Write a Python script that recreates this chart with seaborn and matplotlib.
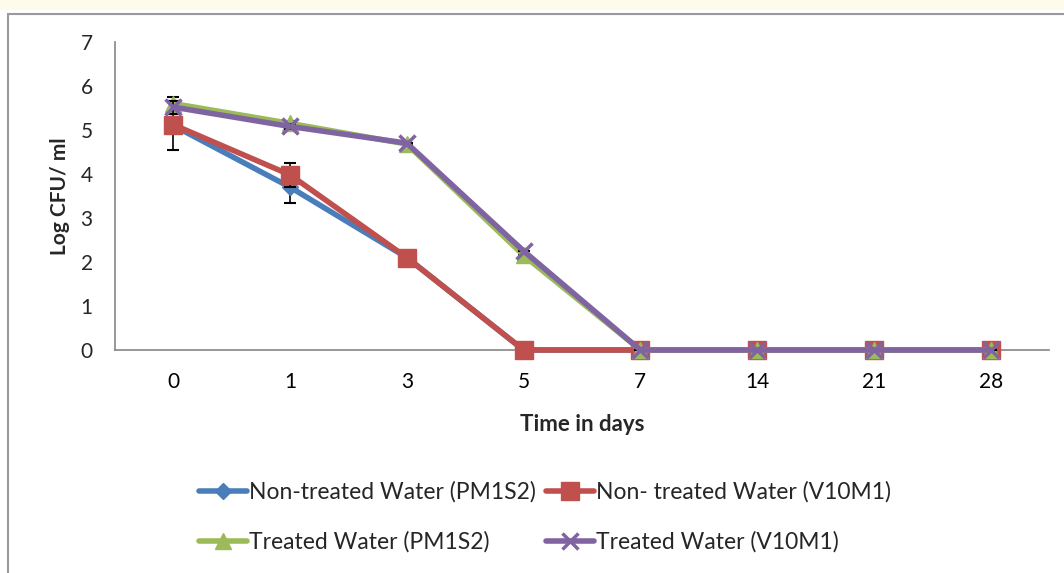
import numpy as np
import pandas as pd
import matplotlib
matplotlib.use("Agg")
import matplotlib.pyplot as plt
import seaborn as sns
from matplotlib.patches import Rectangle

days = ["0", "1", "3", "5", "7", "14", "21", "28"]
series_names = ["Non-treated Water (PM1S2)", "Non- treated Water (V10M1)",
                "Treated Water (PM1S2)", "Treated Water (V10M1)"]
nt_pm1s2 = [5.10, 3.70, 2.10, 0.0, 0.0, 0.0, 0.0, 0.0]
nt_v10m1 = [5.12, 3.98, 2.10, 0.0, 0.0, 0.0, 0.0, 0.0]
t_pm1s2 = [5.60, 5.15, 4.68, 2.15, 0.0, 0.0, 0.0, 0.0]
t_v10m1 = [5.52, 5.08, 4.70, 2.25, 0.0, 0.0, 0.0, 0.0]
err_nt_pm1s2 = [0.55, 0.36, 0, 0, 0, 0, 0, 0]
err_nt_v10m1 = [0.10, 0.27, 0, 0, 0, 0, 0, 0]
err_t_pm1s2 = [0.15, 0.05, 0, 0, 0, 0, 0, 0]
err_t_v10m1 = [0.15, 0.05, 0, 0, 0, 0, 0, 0]

colors = ["#4A7EBB", "#C0504D", "#9BBB59", "#8064A2"]
markers = ["D", "s", "^", "x"]
msizes = [8, 13, 12, 11]

sns.set_theme(style="white")
plt.rcParams['font.family'] = ['Lato', 'DejaVu Sans']

values = [nt_pm1s2, nt_v10m1, t_pm1s2, t_v10m1]
errs = [err_nt_pm1s2, err_nt_v10m1, err_t_pm1s2, err_t_v10m1]
rows = []
for name, vals in zip(series_names, values):
    for i, (d, v) in enumerate(zip(days, vals)):
        rows.append({"pos": i, "day": d, "series": name, "value": v})
df = pd.DataFrame(rows)

fig = plt.figure(figsize=(10.64, 5.73), dpi=100)
fig.patches.append(Rectangle((0, 1 - 10 / 573), 1, 10 / 573, transform=fig.transFigure,
                             facecolor="#FFFBEA", edgecolor="none", zorder=0))
fig.patches.append(Rectangle((8 / 1064, -0.1), 1.2, 1 - 14 / 573 + 0.1, transform=fig.transFigure,
                             facecolor="none", edgecolor="#9A9A9A", linewidth=1.5, zorder=1))

ax = fig.add_axes([115 / 1064, 1 - 350 / 573, (1049 - 115) / 1064, (350 - 42) / 573])

for k, name in enumerate(series_names):
    sub = df[df.series == name]
    ax.errorbar(sub["pos"], sub["value"], yerr=errs[k], fmt="none", ecolor="black",
                elinewidth=1.2, capsize=4, capthick=1.5, zorder=2 + k)
    sns.lineplot(data=sub, x="pos", y="value", ax=ax, color=colors[k], linewidth=4,
                 marker=markers[k], markersize=msizes[k],
                 markeredgecolor=colors[k], markeredgewidth=2.5 if markers[k] == "x" else 1,
                 label=name, zorder=3 + k, clip_on=False)

ax.set_xlim(-0.5, len(days) - 0.5)
ax.set_ylim(0, 7)
ax.set_yticks(range(0, 8))
ax.set_xticks(range(len(days)))
ax.set_xticklabels(days)
ax.set_xticks(np.arange(-0.5, len(days), 1.0), minor=True)
ax.tick_params(axis="x", which="major", length=0, labelsize=15, pad=16, colors="black")
ax.tick_params(axis="x", which="minor", length=6, width=1.2, color="#868686", direction="out")
ax.tick_params(axis="y", which="major", length=6, width=1.2, color="#868686", direction="out",
               labelsize=15, pad=10)
for s in ["top", "right"]:
    ax.spines[s].set_visible(False)
for s in ["left", "bottom"]:
    ax.spines[s].set_color("#868686")
    ax.spines[s].set_linewidth(1.2)

ax.set_xlabel("Time in days", fontsize=16, fontweight="bold", labelpad=16)
ax.set_ylabel("Log CFU/ ml", fontsize=15, fontweight="bold", labelpad=8)

handles, labels = ax.get_legend_handles_labels()
ax.get_legend().remove()
order = [0, 2, 1, 3]
fig.legend([handles[i] for i in order], [labels[i] for i in order], loc="center",
           bbox_to_anchor=(545 / 1064, 1 - 517 / 573),
           ncol=2, frameon=False, fontsize=16.5, handlelength=2.1, handletextpad=0.1,
           columnspacing=0.4, labelspacing=1.25)

fig.savefig("out.png", dpi=100)
